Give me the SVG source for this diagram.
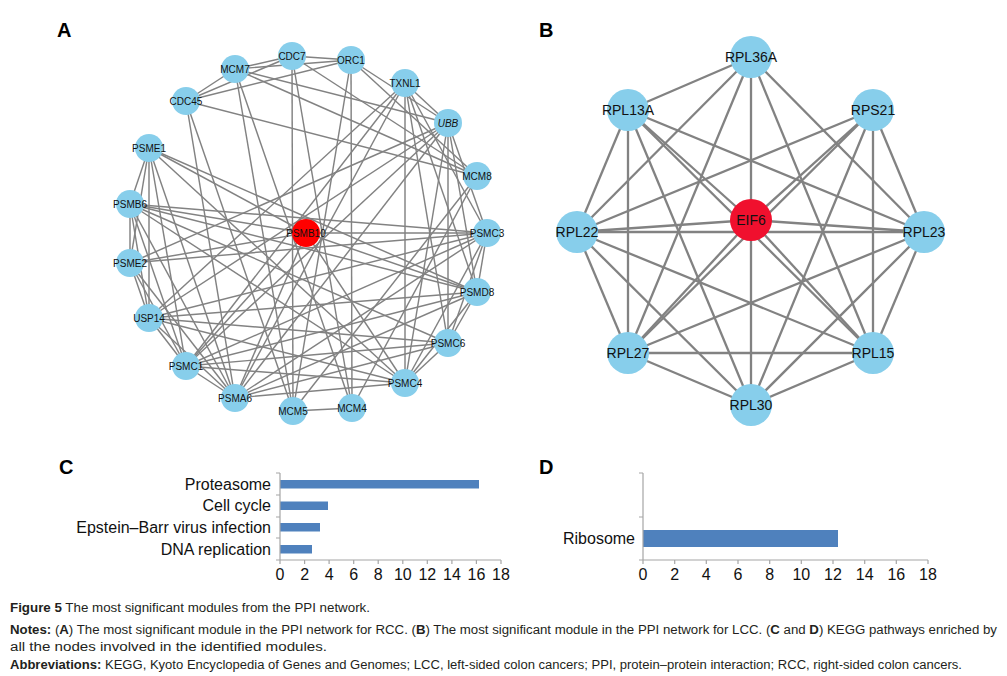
<svg xmlns="http://www.w3.org/2000/svg" width="1007" height="676" viewBox="0 0 1007 676">
<style>
.bg{fill:#fff}
.ea line{stroke:#828282;stroke-width:1.45}
.eb line{stroke:#828282;stroke-width:2.3}
.na{fill:#87CEEB}
.ra{fill:#FF0000}
.rb{fill:#F0102E}
.la{font-family:"Liberation Sans",Arial,sans-serif;font-size:10px;fill:#111;text-anchor:middle}
.lb{font-family:"Liberation Sans",Arial,sans-serif;font-size:14px;fill:#111;text-anchor:middle}
.pl{font-family:"Liberation Sans",Arial,sans-serif;font-size:20px;font-weight:bold;fill:#000}
.ax{stroke:#a6a6a6;stroke-width:1.2;fill:none}
.bar{fill:#4F81BD}
.ct{font-family:"Liberation Sans",Arial,sans-serif;font-size:16px;fill:#111}
.cap{font-family:"Liberation Sans Narrow","Liberation Sans",Arial,sans-serif;font-size:12.5px;fill:#231f20}
.bd{font-weight:bold}
</style>
<rect class="bg" width="1007" height="676"/>
<text class="pl" x="57" y="37">A</text>
<text class="pl" x="539" y="37">B</text>
<text class="pl" x="59" y="474">C</text>
<text class="pl" x="539" y="474">D</text>

<g id="connectors-A" class="ea">
<line x1="292" y1="56" x2="351" y2="60"/>
<line x1="292" y1="56" x2="235" y2="69"/>
<line x1="292" y1="56" x2="186" y2="101"/>
<line x1="351" y1="60" x2="235" y2="69"/>
<line x1="351" y1="60" x2="186" y2="101"/>
<line x1="235" y1="69" x2="186" y2="101"/>
<line x1="292" y1="56" x2="293" y2="411"/>
<line x1="351" y1="60" x2="352" y2="408"/>
<line x1="292" y1="56" x2="352" y2="408"/>
<line x1="351" y1="60" x2="293" y2="411"/>
<line x1="235" y1="69" x2="293" y2="411"/>
<line x1="235" y1="69" x2="352" y2="408"/>
<line x1="186" y1="101" x2="293" y2="411"/>
<line x1="186" y1="101" x2="235" y2="398"/>
<line x1="293" y1="411" x2="352" y2="408"/>
<line x1="235" y1="69" x2="477" y2="176"/>
<line x1="186" y1="101" x2="477" y2="176"/>
<line x1="351" y1="60" x2="477" y2="176"/>
<line x1="292" y1="56" x2="477" y2="176"/>
<line x1="477" y1="176" x2="293" y2="411"/>
<line x1="477" y1="176" x2="352" y2="408"/>
<line x1="235" y1="69" x2="448" y2="123"/>
<line x1="351" y1="60" x2="448" y2="123"/>
<line x1="149" y1="148" x2="130" y2="204"/>
<line x1="149" y1="148" x2="130" y2="263"/>
<line x1="149" y1="148" x2="149" y2="318"/>
<line x1="149" y1="148" x2="186" y2="366"/>
<line x1="149" y1="148" x2="235" y2="398"/>
<line x1="149" y1="148" x2="306" y2="233"/>
<line x1="149" y1="148" x2="405" y2="383"/>
<line x1="149" y1="148" x2="477" y2="292"/>
<line x1="130" y1="204" x2="130" y2="263"/>
<line x1="130" y1="204" x2="149" y2="318"/>
<line x1="130" y1="204" x2="186" y2="366"/>
<line x1="130" y1="204" x2="235" y2="398"/>
<line x1="130" y1="204" x2="306" y2="233"/>
<line x1="130" y1="204" x2="487" y2="233"/>
<line x1="130" y1="204" x2="477" y2="292"/>
<line x1="130" y1="204" x2="448" y2="343"/>
<line x1="130" y1="204" x2="405" y2="383"/>
<line x1="130" y1="263" x2="149" y2="318"/>
<line x1="130" y1="263" x2="186" y2="366"/>
<line x1="130" y1="263" x2="235" y2="398"/>
<line x1="130" y1="263" x2="306" y2="233"/>
<line x1="130" y1="263" x2="487" y2="233"/>
<line x1="130" y1="263" x2="448" y2="123"/>
<line x1="149" y1="318" x2="186" y2="366"/>
<line x1="149" y1="318" x2="235" y2="398"/>
<line x1="149" y1="318" x2="405" y2="383"/>
<line x1="149" y1="318" x2="448" y2="343"/>
<line x1="149" y1="318" x2="477" y2="292"/>
<line x1="149" y1="318" x2="487" y2="233"/>
<line x1="149" y1="318" x2="448" y2="123"/>
<line x1="149" y1="318" x2="405" y2="83"/>
<line x1="186" y1="366" x2="235" y2="398"/>
<line x1="186" y1="366" x2="405" y2="383"/>
<line x1="186" y1="366" x2="448" y2="343"/>
<line x1="186" y1="366" x2="477" y2="292"/>
<line x1="186" y1="366" x2="487" y2="233"/>
<line x1="186" y1="366" x2="448" y2="123"/>
<line x1="186" y1="366" x2="405" y2="83"/>
<line x1="186" y1="366" x2="306" y2="233"/>
<line x1="235" y1="398" x2="405" y2="383"/>
<line x1="235" y1="398" x2="448" y2="343"/>
<line x1="235" y1="398" x2="477" y2="292"/>
<line x1="235" y1="398" x2="487" y2="233"/>
<line x1="235" y1="398" x2="448" y2="123"/>
<line x1="235" y1="398" x2="405" y2="83"/>
<line x1="235" y1="398" x2="306" y2="233"/>
<line x1="405" y1="383" x2="448" y2="343"/>
<line x1="405" y1="383" x2="477" y2="292"/>
<line x1="405" y1="383" x2="487" y2="233"/>
<line x1="405" y1="383" x2="448" y2="123"/>
<line x1="405" y1="383" x2="405" y2="83"/>
<line x1="405" y1="383" x2="306" y2="233"/>
<line x1="448" y1="343" x2="477" y2="292"/>
<line x1="448" y1="343" x2="487" y2="233"/>
<line x1="448" y1="343" x2="448" y2="123"/>
<line x1="448" y1="343" x2="405" y2="83"/>
<line x1="477" y1="292" x2="487" y2="233"/>
<line x1="477" y1="292" x2="448" y2="123"/>
<line x1="477" y1="292" x2="405" y2="83"/>
<line x1="477" y1="292" x2="306" y2="233"/>
<line x1="487" y1="233" x2="448" y2="123"/>
<line x1="487" y1="233" x2="405" y2="83"/>
<line x1="487" y1="233" x2="306" y2="233"/>
<line x1="405" y1="83" x2="448" y2="123"/>
</g>

<g id="node-CDC7"><circle class="na" cx="292" cy="56" r="14"/><text class="la" x="292" y="59.5">CDC7</text></g>
<g id="node-ORC1"><circle class="na" cx="351" cy="60" r="14"/><text class="la" x="351" y="63.5">ORC1</text></g>
<g id="node-MCM7"><circle class="na" cx="235" cy="69" r="14"/><text class="la" x="235" y="72.5">MCM7</text></g>
<g id="node-TXNL1"><circle class="na" cx="405" cy="83" r="14"/><text class="la" x="405" y="86.5">TXNL1</text></g>
<g id="node-CDC45"><circle class="na" cx="186" cy="101" r="14"/><text class="la" x="186" y="104.5">CDC45</text></g>
<g id="node-UBB"><circle class="na" cx="448" cy="123" r="14"/><text class="la" x="448" y="126.5" font-style="italic">UBB</text></g>
<g id="node-PSME1"><circle class="na" cx="149" cy="148" r="14"/><text class="la" x="149" y="151.5">PSME1</text></g>
<g id="node-MCM8"><circle class="na" cx="477" cy="176" r="14"/><text class="la" x="477" y="179.5">MCM8</text></g>
<g id="node-PSMB6"><circle class="na" cx="130" cy="204" r="14"/><text class="la" x="130" y="207.5">PSMB6</text></g>
<g id="node-PSMB10"><circle class="ra" cx="306" cy="233" r="14"/><text class="la" x="306" y="236.5">PSMB10</text></g>
<g id="node-PSMC3"><circle class="na" cx="487" cy="233" r="14"/><text class="la" x="487" y="236.5">PSMC3</text></g>
<g id="node-PSME2"><circle class="na" cx="130" cy="263" r="14"/><text class="la" x="130" y="266.5">PSME2</text></g>
<g id="node-PSMD8"><circle class="na" cx="477" cy="292" r="14"/><text class="la" x="477" y="295.5">PSMD8</text></g>
<g id="node-USP14"><circle class="na" cx="149" cy="318" r="14"/><text class="la" x="149" y="321.5">USP14</text></g>
<g id="node-PSMC6"><circle class="na" cx="448" cy="343" r="14"/><text class="la" x="448" y="346.5">PSMC6</text></g>
<g id="node-PSMC1"><circle class="na" cx="186" cy="366" r="14"/><text class="la" x="186" y="369.5">PSMC1</text></g>
<g id="node-PSMC4"><circle class="na" cx="405" cy="383" r="14"/><text class="la" x="405" y="386.5">PSMC4</text></g>
<g id="node-PSMA6"><circle class="na" cx="235" cy="398" r="14"/><text class="la" x="235" y="401.5">PSMA6</text></g>
<g id="node-MCM5"><circle class="na" cx="293" cy="411" r="14"/><text class="la" x="293" y="414.5">MCM5</text></g>
<g id="node-MCM4"><circle class="na" cx="352" cy="408" r="14"/><text class="la" x="352" y="411.5">MCM4</text></g>

<g id="connectors-B" class="eb">
<line x1="751" y1="57" x2="628" y2="110"/>
<line x1="751" y1="57" x2="577" y2="232"/>
<line x1="751" y1="57" x2="751" y2="220"/>
<line x1="751" y1="57" x2="924" y2="232"/>
<line x1="751" y1="57" x2="628" y2="353"/>
<line x1="751" y1="57" x2="873" y2="353"/>
<line x1="628" y1="110" x2="577" y2="232"/>
<line x1="628" y1="110" x2="751" y2="220"/>
<line x1="628" y1="110" x2="924" y2="232"/>
<line x1="628" y1="110" x2="628" y2="353"/>
<line x1="628" y1="110" x2="873" y2="353"/>
<line x1="628" y1="110" x2="751" y2="405"/>
<line x1="873" y1="110" x2="577" y2="232"/>
<line x1="873" y1="110" x2="751" y2="220"/>
<line x1="873" y1="110" x2="924" y2="232"/>
<line x1="873" y1="110" x2="628" y2="353"/>
<line x1="873" y1="110" x2="873" y2="353"/>
<line x1="873" y1="110" x2="751" y2="405"/>
<line x1="577" y1="232" x2="751" y2="220"/>
<line x1="577" y1="232" x2="924" y2="232"/>
<line x1="577" y1="232" x2="628" y2="353"/>
<line x1="577" y1="232" x2="873" y2="353"/>
<line x1="577" y1="232" x2="751" y2="405"/>
<line x1="924" y1="232" x2="751" y2="220"/>
<line x1="924" y1="232" x2="628" y2="353"/>
<line x1="924" y1="232" x2="873" y2="353"/>
<line x1="924" y1="232" x2="751" y2="405"/>
<line x1="628" y1="353" x2="751" y2="220"/>
<line x1="628" y1="353" x2="873" y2="353"/>
<line x1="628" y1="353" x2="751" y2="405"/>
<line x1="873" y1="353" x2="751" y2="220"/>
<line x1="873" y1="353" x2="751" y2="405"/>
<line x1="751" y1="405" x2="751" y2="220"/>
</g>

<g id="node-RPL36A"><circle class="na" cx="751" cy="57" r="21"/><text class="lb" x="751" y="62">RPL36A</text></g>
<g id="node-RPL13A"><circle class="na" cx="628" cy="110" r="21"/><text class="lb" x="628" y="115">RPL13A</text></g>
<g id="node-RPS21"><circle class="na" cx="873" cy="110" r="21"/><text class="lb" x="873" y="115">RPS21</text></g>
<g id="node-RPL22"><circle class="na" cx="577" cy="232" r="21"/><text class="lb" x="577" y="237">RPL22</text></g>
<g id="node-EIF6"><circle class="rb" cx="751" cy="220" r="21"/><text class="lb" x="751" y="225">EIF6</text></g>
<g id="node-RPL23"><circle class="na" cx="924" cy="232" r="21"/><text class="lb" x="924" y="237">RPL23</text></g>
<g id="node-RPL27"><circle class="na" cx="628" cy="353" r="21"/><text class="lb" x="628" y="358">RPL27</text></g>
<g id="node-RPL15"><circle class="na" cx="873" cy="353" r="21"/><text class="lb" x="873" y="358">RPL15</text></g>
<g id="node-RPL30"><circle class="na" cx="751" cy="405" r="21"/><text class="lb" x="751" y="410">RPL30</text></g>

<g id="chart-C">
<rect class="bar" x="280" y="480" width="199" height="8.5"/>
<rect class="bar" x="280" y="501.5" width="48" height="8.5"/>
<rect class="bar" x="280" y="523" width="40" height="8.5"/>
<rect class="bar" x="280" y="545" width="32" height="8.5"/>
<path class="ax" d="M280,473V560H501M276,473H280M276,495H280M276,517H280M276,538H280M276,560H280M304.6,560v4M329.1,560v4M353.7,560v4M378.2,560v4M402.8,560v4M427.3,560v4M451.9,560v4M476.4,560v4M501,560v4M280,560v4"/>
<g class="ct" text-anchor="end">
<text x="271" y="490">Proteasome</text>
<text x="271" y="511">Cell cycle</text>
<text x="271" y="533">Epstein–Barr virus infection</text>
<text x="271" y="555">DNA replication</text>
</g>
<g class="ct" text-anchor="middle">
<text x="280" y="580">0</text><text x="304.6" y="580">2</text><text x="329.1" y="580">4</text><text x="353.7" y="580">6</text><text x="378.2" y="580">8</text><text x="402.8" y="580">10</text><text x="427.3" y="580">12</text><text x="451.9" y="580">14</text><text x="476.4" y="580">16</text><text x="501" y="580">18</text>
</g>
</g>

<g id="chart-D">
<rect class="bar" x="643" y="530" width="195" height="17"/>
<path class="ax" d="M643,473V560H928M639,473H643M639,517H643M639,560H643M643,560v4M674.7,560v4M706.3,560v4M738,560v4M769.7,560v4M801.3,560v4M833,560v4M864.7,560v4M896.3,560v4M928,560v4"/>
<text class="ct" x="635" y="544" text-anchor="end">Ribosome</text>
<g class="ct" text-anchor="middle">
<text x="643" y="580">0</text><text x="674.7" y="580">2</text><text x="706.3" y="580">4</text><text x="738" y="580">6</text><text x="769.7" y="580">8</text><text x="801.3" y="580">10</text><text x="833" y="580">12</text><text x="864.7" y="580">14</text><text x="896.3" y="580">16</text><text x="928" y="580">18</text>
</g>
</g>

<g id="caption">
<text class="cap" x="10" y="612" textLength="360" lengthAdjust="spacingAndGlyphs"><tspan class="bd">Figure 5</tspan> The most significant modules from the PPI network.</text>
<text class="cap" x="10" y="634" textLength="987" lengthAdjust="spacingAndGlyphs"><tspan class="bd">Notes:</tspan> (<tspan class="bd">A</tspan>) The most significant module in the PPI network for RCC. (<tspan class="bd">B</tspan>) The most significant module in the PPI network for LCC. (<tspan class="bd">C</tspan> and <tspan class="bd">D</tspan>) KEGG pathways enriched by</text>
<text class="cap" x="10" y="651" textLength="317" lengthAdjust="spacingAndGlyphs">all the nodes involved in the identified modules.</text>
<text class="cap" x="10" y="669" textLength="952" lengthAdjust="spacingAndGlyphs"><tspan class="bd">Abbreviations:</tspan> KEGG, Kyoto Encyclopedia of Genes and Genomes; LCC, left-sided colon cancers; PPI, protein–protein interaction; RCC, right-sided colon cancers.</text>
</g>
</svg>
